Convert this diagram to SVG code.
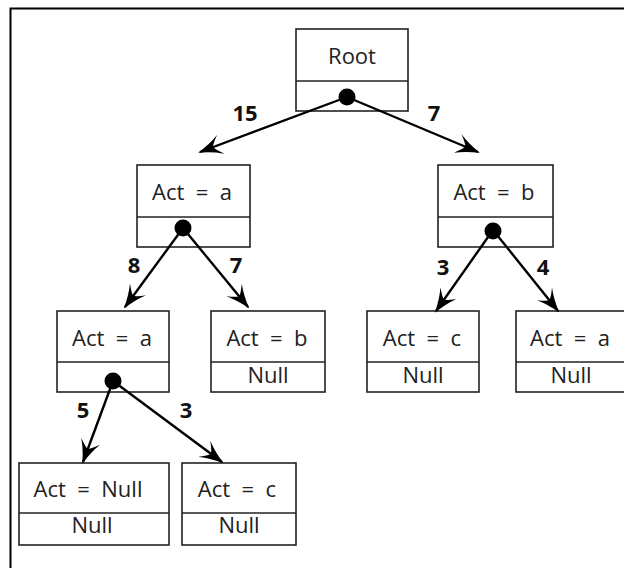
<svg xmlns="http://www.w3.org/2000/svg" width="624" height="568" viewBox="0 0 624 568">
<style>
.box{fill:#fff;stroke:#222;stroke-width:1.6}
.div{stroke:#222;stroke-width:1.6}
.t{font-family:"Open Sans","Noto Sans",sans-serif;font-size:22px;fill:#222;text-anchor:middle;white-space:pre}
.lbl{font-family:"Open Sans","Noto Sans",sans-serif;font-size:22px;font-weight:bold;fill:#111;text-anchor:middle}
.edge{stroke:#000;stroke-width:2.4;fill:none;marker-end:url(#ah)}
.dot{fill:#000}
</style>
<defs>
<marker id="ah" markerUnits="userSpaceOnUse" viewBox="0 0 24 20" refX="22" refY="10" markerWidth="24" markerHeight="20" orient="auto">
<path d="M0,0 Q10,6 24,10 Q10,14 0,20 Q8,12 8,10 Q8,8 0,0 Z" fill="#000"/>
</marker>
</defs>
<rect width="624" height="568" fill="#fff"/>
<path d="M10.5,568 V8.5 H624" fill="none" stroke="#000" stroke-width="2"/>

<g id="root">
<rect class="box" x="296" y="29" width="112" height="82"/>
<line class="div" x1="296" y1="81" x2="408" y2="81"/>
<text class="t" x="352" y="64">Root</text>
</g>
<g id="n1a">
<rect class="box" x="137" y="165" width="113" height="82"/>
<line class="div" x1="137" y1="217" x2="250" y2="217"/>
<text class="t" x="192" y="200" xml:space="preserve">Act  =  a</text>
</g>
<g id="n1b">
<rect class="box" x="438" y="165" width="115" height="82"/>
<line class="div" x1="438" y1="217" x2="553" y2="217"/>
<text class="t" x="494" y="200" xml:space="preserve">Act  =  b</text>
</g>
<g id="n2a">
<rect class="box" x="57" y="311" width="112" height="81"/>
<line class="div" x1="57" y1="362" x2="169" y2="362"/>
<text class="t" x="112" y="346" xml:space="preserve">Act  =  a</text>
</g>
<g id="n2b">
<rect class="box" x="211" y="311" width="114" height="81"/>
<line class="div" x1="211" y1="362" x2="325" y2="362"/>
<text class="t" x="267" y="346" xml:space="preserve">Act  =  b</text>
<text class="t" x="268" y="383">Null</text>
</g>
<g id="n2c">
<rect class="box" x="367" y="311" width="112" height="81"/>
<line class="div" x1="367" y1="362" x2="479" y2="362"/>
<text class="t" x="422" y="346" xml:space="preserve">Act  =  c</text>
<text class="t" x="423" y="383">Null</text>
</g>
<g id="n2d">
<rect class="box" x="516" y="311" width="112" height="81"/>
<line class="div" x1="516" y1="362" x2="628" y2="362"/>
<text class="t" x="570" y="346" xml:space="preserve">Act  =  a</text>
<text class="t" x="571" y="383">Null</text>
</g>
<g id="n3a">
<rect class="box" x="19" y="463" width="150" height="82"/>
<line class="div" x1="19" y1="513" x2="169" y2="513"/>
<text class="t" x="88" y="497" xml:space="preserve">Act  =  Null</text>
<text class="t" x="92" y="533">Null</text>
</g>
<g id="n3b">
<rect class="box" x="182" y="463" width="114" height="82"/>
<line class="div" x1="182" y1="513" x2="296" y2="513"/>
<text class="t" x="237" y="497" xml:space="preserve">Act  =  c</text>
<text class="t" x="239" y="533">Null</text>
</g>

<g id="connectors">
<line class="edge" x1="347" y1="97" x2="200" y2="152"/>
<line class="edge" x1="347" y1="97" x2="478" y2="152"/>
<line class="edge" x1="183" y1="228" x2="125" y2="307"/>
<line class="edge" x1="183" y1="228" x2="248" y2="307"/>
<line class="edge" x1="493" y1="230" x2="436" y2="311"/>
<line class="edge" x1="493" y1="230" x2="558" y2="311"/>
<line class="edge" x1="113" y1="381" x2="83" y2="462"/>
<line class="edge" x1="113" y1="381" x2="222" y2="462"/>
<circle class="dot" cx="347" cy="97" r="8.5"/>
<circle class="dot" cx="183" cy="228" r="8.5"/>
<circle class="dot" cx="493" cy="231" r="8.5"/>
<circle class="dot" cx="113" cy="381" r="8.5"/>
<text class="lbl" x="245" y="121">15</text>
<text class="lbl" x="434" y="121">7</text>
<text class="lbl" x="134" y="273">8</text>
<text class="lbl" x="236" y="273">7</text>
<text class="lbl" x="443" y="275">3</text>
<text class="lbl" x="543" y="275">4</text>
<text class="lbl" x="83" y="418">5</text>
<text class="lbl" x="186" y="418">3</text>
</g>
</svg>
